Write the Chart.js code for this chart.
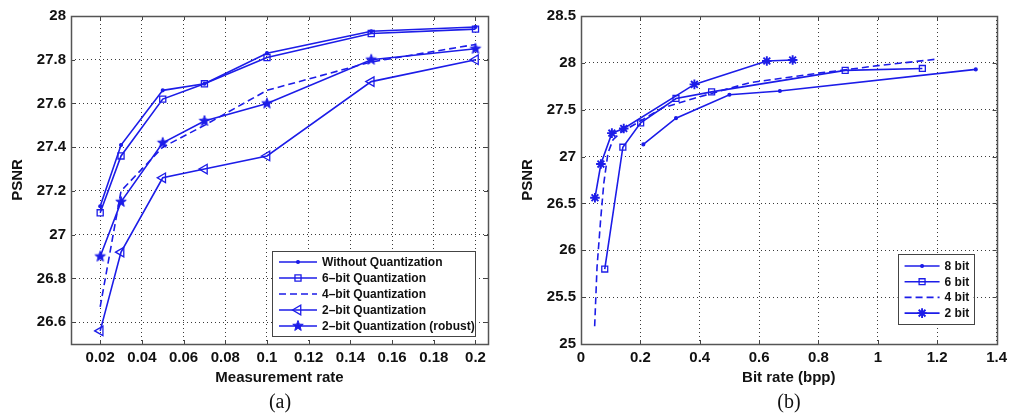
<!DOCTYPE html>
<html>
<head>
<meta charset="utf-8">
<title>PSNR vs measurement rate / bit rate</title>
<script src="https://cdn.jsdelivr.net/npm/chart.js@4.4.0/dist/chart.umd.min.js"></script>
<style>
  body { margin: 0; background: #fff; }
  .wrap { position: relative; width: 1012px; height: 414px; overflow: hidden; }
  .panel { position: absolute; top: 0; width: 506px; height: 414px; }
  #panelA { left: 0; }
  #panelB { left: 506px; }
  .caption { position: absolute; top: 389px; width: 80px; text-align: center;
    font: 20px "Liberation Serif", "DejaVu Serif", serif; color: #111; line-height: 24px; }
</style>
</head>
<body>
<div class="wrap">
  <div class="panel" id="panelA"><canvas id="chartA" width="506" height="414"></canvas></div>
  <div class="panel" id="panelB"><canvas id="chartB" width="506" height="414"></canvas></div>
  <div class="caption" style="left:240px">(a)</div>
  <div class="caption" style="left:749px">(b)</div>
</div>
<script>
// (a) PSNR against measurement rate
const rateA = [0.02, 0.03, 0.05, 0.07, 0.1, 0.15, 0.2];
const psnrNoQuant = [27.13, 27.41, 27.66, 27.69, 27.83, 27.93, 27.95];
const psnr6bitA = [27.10, 27.36, 27.62, 27.69, 27.81, 27.92, 27.94];
const psnr4bitA = [26.67, 27.20, 27.40, 27.50, 27.66, 27.79, 27.87];
const psnr2bitA = [26.56, 26.92, 27.26, 27.30, 27.36, 27.70, 27.80];
const psnr2bitRobust = [26.90, 27.15, 27.42, 27.52, 27.60, 27.80, 27.85];
const rateTicksA = [0.02, 0.04, 0.06, 0.08, 0.1, 0.12, 0.14, 0.16, 0.18, 0.2];
const psnrTicksA = [26.6, 26.8, 27, 27.2, 27.4, 27.6, 27.8, 28];

// (b) PSNR against bit rate
const bpp8bit = [0.21, 0.32, 0.50, 0.67, 1.33];
const psnr8bit = [27.13, 27.41, 27.66, 27.70, 27.93];
const bpp6bit = [0.08, 0.141, 0.201, 0.32, 0.44, 0.89, 1.15];
const psnr6bitB = [25.80, 27.10, 27.36, 27.62, 27.69, 27.92, 27.94];
const bpp4bit = [0.046, 0.054, 0.066, 0.077, 0.091, 0.108, 0.131, 0.2, 0.275, 0.38, 0.57, 0.8, 1.0, 1.2];
const psnr4bitB = [25.19, 25.82, 26.32, 26.72, 27.04, 27.18, 27.25, 27.38, 27.52, 27.62, 27.79, 27.89, 27.97, 28.04];
const bpp2bit = [0.047, 0.067, 0.104, 0.144, 0.382, 0.626, 0.713];
const psnr2bitB = [26.56, 26.92, 27.25, 27.30, 27.77, 28.02, 28.03];
const bppTicksB = [0, 0.2, 0.4, 0.6, 0.8, 1, 1.2, 1.4];
const psnrTicksB = [25, 25.5, 26, 26.5, 27, 27.5, 28, 28.5];

const BLUE = 'rgb(28,28,232)';
const FONT = '"Liberation Sans", Arial, Helvetica, sans-serif';
const NONE = 'rgba(0,0,0,0)';

function pts(xs, ys) {
  return xs.map((x, i) => ({ x: x, y: ys[i] }));
}

// filled five-pointed star marker
function makePentagram(r) {
  const c = document.createElement('canvas');
  const s = Math.ceil(r * 2 + 3);
  c.width = c.height = s;
  const g = c.getContext('2d');
  g.fillStyle = BLUE;
  g.strokeStyle = BLUE;
  g.lineWidth = 1;
  g.beginPath();
  for (let i = 0; i < 10; i++) {
    const ang = -Math.PI / 2 + i * Math.PI / 5;
    const rr = i % 2 ? r * 0.42 : r;
    g.lineTo(s / 2 + rr * Math.cos(ang), s / 2 + rr * Math.sin(ang));
  }
  g.closePath();
  g.fill();
  g.stroke();
  return c;
}
const pentagram = makePentagram(5.5);

function series(label, data, extra) {
  return Object.assign({
    label: label,
    data: data,
    borderColor: BLUE,
    backgroundColor: NONE,
    borderWidth: 1.6,
    pointBorderColor: BLUE,
    pointBackgroundColor: NONE,
    pointBorderWidth: 1.3,
    pointRadius: 0,
    pointStyle: 'circle',
    tension: 0,
    fill: false
  }, extra);
}

const fmt = v => String(+Number(v).toFixed(2));

// box around the axes with inward tick marks
const framePlugin = {
  id: 'frame',
  afterDatasetsDraw(chart) {
    const { ctx, chartArea: a, scales } = chart;
    ctx.save();
    ctx.strokeStyle = '#444';
    ctx.lineWidth = 1;
    ctx.beginPath();
    scales.x.ticks.forEach(t => {
      const px = Math.round(scales.x.getPixelForValue(t.value)) + 0.5;
      ctx.moveTo(px, a.bottom); ctx.lineTo(px, a.bottom - 4);
      ctx.moveTo(px, a.top); ctx.lineTo(px, a.top + 4);
    });
    scales.y.ticks.forEach(t => {
      const py = Math.round(scales.y.getPixelForValue(t.value)) + 0.5;
      ctx.moveTo(a.left, py); ctx.lineTo(a.left + 4, py);
      ctx.moveTo(a.right, py); ctx.lineTo(a.right - 4, py);
    });
    ctx.stroke();
    ctx.lineWidth = 1.5;
    ctx.strokeStyle = '#555';
    ctx.strokeRect(Math.round(a.left) + 0.5, Math.round(a.top) + 0.5,
      Math.round(a.right - a.left), Math.round(a.bottom - a.top));
    ctx.restore();
  }
};

// legend box inside the axes, one row per dataset with a line sample
const boxLegendPlugin = {
  id: 'boxLegend',
  afterDraw(chart, args, o) {
    const { ctx, chartArea: a } = chart;
    const sets = chart.data.datasets;
    const x1 = a.right - o.right, x0 = x1 - o.width;
    const y1 = a.bottom - o.bottom, y0 = y1 - o.height;
    ctx.save();
    ctx.fillStyle = '#fff';
    ctx.fillRect(x0, y0, o.width, o.height);
    ctx.strokeStyle = '#444';
    ctx.lineWidth = 1;
    ctx.strokeRect(Math.round(x0) + 0.5, Math.round(y0) + 0.5, Math.round(o.width), Math.round(o.height));
    ctx.font = 'bold 12px ' + FONT;
    ctx.textBaseline = 'middle';
    sets.forEach((ds, i) => {
      const y = y0 + o.firstRow + i * o.rowGap;
      const sx0 = x0 + o.sampleLeft, sx1 = sx0 + o.sampleLen;
      ctx.strokeStyle = ds.borderColor;
      ctx.lineWidth = ds.borderWidth;
      ctx.setLineDash(ds.borderDash || []);
      ctx.beginPath();
      ctx.moveTo(sx0, y);
      ctx.lineTo(sx1, y);
      ctx.stroke();
      ctx.setLineDash([]);
      if (ds.pointRadius > 0 && Chart.helpers && Chart.helpers.drawPoint) {
        ctx.fillStyle = ds.pointBackgroundColor;
        ctx.strokeStyle = ds.pointBorderColor;
        ctx.lineWidth = ds.pointBorderWidth;
        Chart.helpers.drawPoint(ctx, {
          pointStyle: ds.pointStyle,
          rotation: ds.pointRotation || 0,
          radius: ds.pointRadius,
          borderWidth: ds.pointBorderWidth
        }, (sx0 + sx1) / 2, y);
      }
      ctx.fillStyle = '#111';
      ctx.fillText(ds.label, sx1 + o.textGap, y + 0.5);
    });
    ctx.restore();
  }
};

function axis(min, max, tickVals, title, titlePad, extra) {
  return Object.assign({
    type: 'linear',
    min: min,
    max: max,
    afterBuildTicks: s => { s.ticks = tickVals.map(v => ({ value: v })); },
    grid: { color: '#3a3a3a', lineWidth: 1, drawTicks: false },
    border: { display: false, dash: [1, 3] },
    ticks: {
      color: '#111',
      font: { family: FONT, size: 15, weight: 'bold' },
      padding: 5,
      maxRotation: 0,
      autoSkip: false,
      callback: v => fmt(v)
    },
    title: {
      display: true,
      text: title,
      color: '#111',
      font: { family: FONT, size: 15, weight: 'bold' },
      padding: titlePad
    }
  }, extra);
}

function makeChart(id, datasets, xAxis, yAxis, padRight, legendOpts) {
  return new Chart(document.getElementById(id), {
    type: 'line',
    data: { datasets: datasets },
    options: {
      responsive: false,
      animation: false,
      devicePixelRatio: 1,
      layout: { padding: { top: 16, right: padRight, left: 0, bottom: 0 } },
      scales: { x: xAxis, y: yAxis },
      plugins: {
        legend: { display: false },
        tooltip: { enabled: false },
        boxLegend: legendOpts
      }
    },
    plugins: [framePlugin, boxLegendPlugin]
  });
}

makeChart('chartA', [
  series('Without Quantization', pts(rateA, psnrNoQuant), { pointRadius: 1.4, pointBackgroundColor: BLUE }),
  series('6\u2013bit Quantization', pts(rateA, psnr6bitA), { pointRadius: 4.3, pointStyle: 'rect' }),
  series('4\u2013bit Quantization', pts(rateA, psnr4bitA), { borderDash: [7, 4] }),
  series('2\u2013bit Quantization', pts(rateA, psnr2bitA), { pointRadius: 5.5, pointStyle: 'triangle', pointRotation: -90 }),
  series('2\u2013bit Quantization (robust)', pts(rateA, psnr2bitRobust), { pointRadius: 5.5, pointStyle: pentagram })
],
  axis(0.006, 0.206, rateTicksA, 'Measurement rate', { top: 0, bottom: 27 },
    { afterFit: s => { s.height = 70; } }),
  axis(26.5, 28, psnrTicksA, 'PSNR', { top: 9, bottom: 0 },
    { afterFit: s => { s.width = 71; } }),
  18,
  { right: 13, bottom: 8, width: 203, height: 85, firstRow: 11, rowGap: 16, sampleLeft: 7, sampleLen: 38, textGap: 5 });

makeChart('chartB', [
  series('8 bit', pts(bpp8bit, psnr8bit), { pointRadius: 1.4, pointBackgroundColor: BLUE }),
  series('6 bit', pts(bpp6bit, psnr6bitB), { pointRadius: 4.2, pointStyle: 'rect' }),
  series('4 bit', pts(bpp4bit, psnr4bitB), { borderDash: [7, 4] }),
  series('2 bit', pts(bpp2bit, psnr2bitB), { pointRadius: 4.8, pointStyle: 'star', pointBorderWidth: 1.9 })
],
  axis(0, 1.4, bppTicksB, 'Bit rate (bpp)', { top: 0, bottom: 27 },
    { afterFit: s => { s.height = 70; } }),
  axis(25, 28.5, psnrTicksB, 'PSNR', { top: 13, bottom: 0 },
    { afterFit: s => { s.width = 75; } }),
  13,
  { right: 23, bottom: 20, width: 76, height: 70, firstRow: 12, rowGap: 15.7, sampleLeft: 7, sampleLen: 35, textGap: 5 });
</script>
</body>
</html>
